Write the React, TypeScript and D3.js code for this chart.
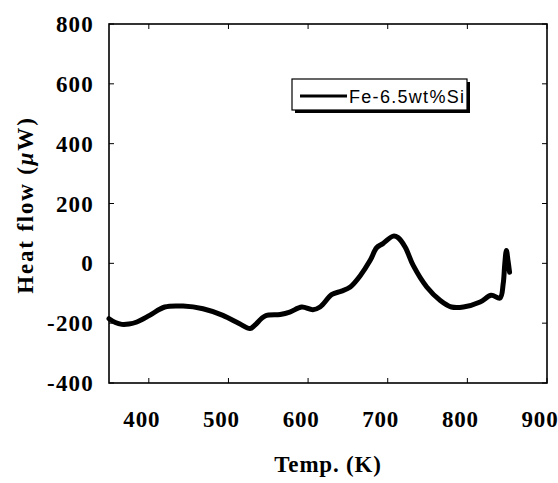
import React from "react";
import * as d3 from "d3";

const temps = [350, 358, 366, 375, 385, 401, 420, 443, 468, 493, 514, 527, 533, 546, 565, 577, 592, 606, 615, 630, 642, 653, 665, 678, 686, 694, 707, 713, 722, 732, 749, 766, 780, 795, 816, 830, 841, 845, 847, 849, 851, 853];
const heatFlow = [-185, -198, -204, -203, -196, -174, -146, -143, -152, -174, -202, -218, -207, -176, -171, -163, -146, -155, -146, -104, -93, -79, -43, 10, 52, 66, 91, 86, 54, -7, -79, -124, -146, -146, -129, -107, -116, -68, -1, 43, 10, -30];
const xTicks = [400, 500, 600, 700, 800, 900];
const yTicks = [800, 600, 400, 200, 0, -200, -400];
const yTickLabels = ["800", "600", "400", "200", "0", "-200", "-400"];
const seriesName = "Fe-6.5wt%Si";

const W = 558, H = 483;
const L = 109, R = 547, T = 24, B = 383;

export default function App() {
  const x = d3.scaleLinear().domain([350, 900]).range([L, R]);
  const y = d3.scaleLinear().domain([-400, 800]).range([B, T]);
  const pts = temps.map((t, i) => [t, heatFlow[i]] as [number, number]);
  const line = d3.line<[number, number]>()
    .x(d => x(d[0]))
    .y(d => y(d[1]))
    .curve(d3.curveCatmullRom.alpha(0.5));
  const serif = "'Liberation Serif', 'Times New Roman', serif";
  return (
    <svg width={W} height={H} style={{ position: "absolute", left: 0, top: 0, background: "#fff" }}>
      <rect x={0} y={0} width={W} height={H} fill="#fff" />
      {yTicks.map(v => (
        <g key={"yt" + v}>
          <line x1={L} x2={L + 5} y1={y(v)} y2={y(v)} stroke="#000" strokeWidth={1} />
          <line x1={R} x2={R - 5} y1={y(v)} y2={y(v)} stroke="#000" strokeWidth={1} />
        </g>
      ))}
      {xTicks.map(v => (
        <g key={"xt" + v}>
          <line x1={x(v)} x2={x(v)} y1={B} y2={B - 5} stroke="#000" strokeWidth={1} />
          <line x1={x(v)} x2={x(v)} y1={T} y2={T + 5} stroke="#000" strokeWidth={1} />
        </g>
      ))}
      <rect x={L} y={T} width={R - L} height={B - T} fill="none" stroke="#000" strokeWidth={1.6} />
      {yTicks.map((v, i) => (
        <text key={"yl" + v} x={94} y={y(v) + 8} textAnchor="end" fontFamily={serif}
          fontWeight="bold" fontSize={23} letterSpacing={1.2}>{yTickLabels[i]}</text>
      ))}
      {xTicks.map(v => (
        <text key={"xl" + v} x={x(v) - 7} y={427} textAnchor="middle" fontFamily={serif}
          fontWeight="bold" fontSize={23} letterSpacing={0.8}>{String(v)}</text>
      ))}
      <text x={(L + R) / 2} y={472} textAnchor="middle" fontFamily={serif} fontWeight="bold" fontSize={23}
        letterSpacing={0.8}>Temp. (K)</text>
      <text transform={`translate(33, 205) rotate(-90)`} textAnchor="middle" fontFamily={serif}
        fontWeight="bold" fontSize={23} letterSpacing={1.8}>
        Heat flow (<tspan fontStyle="italic">μ</tspan>W)
      </text>
      <path d={line(pts) || ""} fill="none" stroke="#000" strokeWidth={5} strokeLinejoin="round" strokeLinecap="round" />
      <rect x={295} y={82} width={175} height={31} fill="#000" />
      <rect x={292} y={79} width={175} height={31} fill="#fff" stroke="#000" strokeWidth={1.2} />
      <line x1={300} x2={347} y1={96} y2={96} stroke="#000" strokeWidth={3} />
      <text x={349} y={103} fontFamily="'Liberation Sans', Arial, sans-serif" fontSize={18} letterSpacing={1.3}>{seriesName}</text>
    </svg>
  );
}
